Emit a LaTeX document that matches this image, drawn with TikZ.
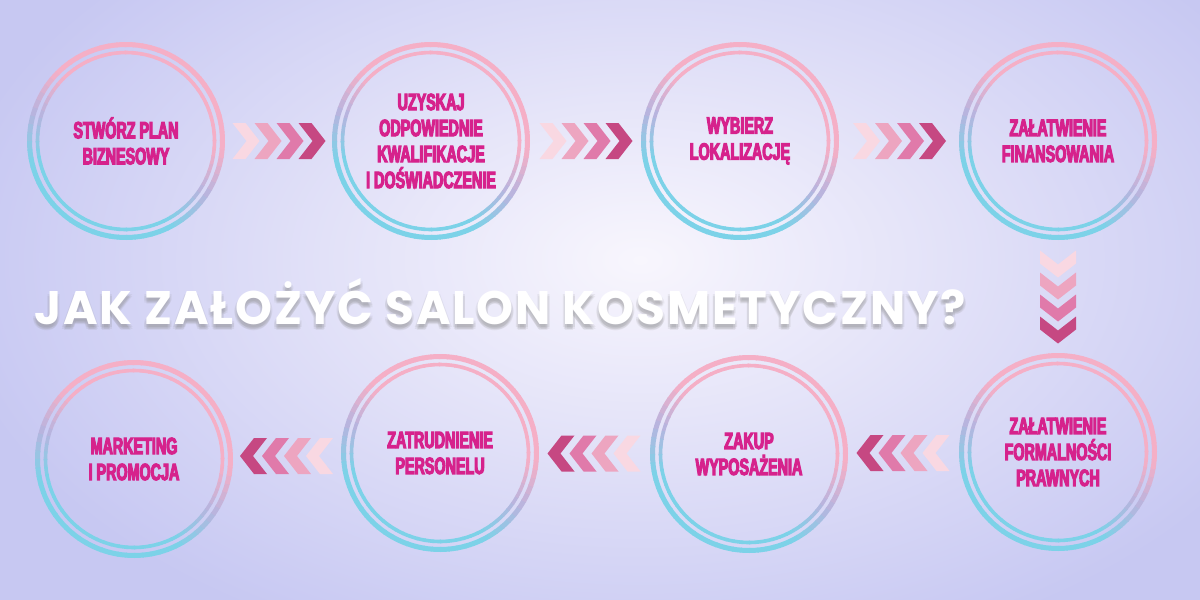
\documentclass[tikz,border=0pt]{standalone}
\usepackage{fontspec}
\usetikzlibrary{calc}
\newfontfamily\labfont{Liberation Sans}[FakeStretch=0.61]
\newfontfamily\titlefont{Poppins}[LetterSpace=4]
\definecolor{bgout}{RGB}{199,200,242}
\definecolor{bgin}{RGB}{248,246,253}
\definecolor{rpink}{RGB}{245,175,198}
\definecolor{rcyan}{RGB}{124,210,232}
\definecolor{rmid}{RGB}{184,180,222}
\definecolor{labcol}{RGB}{214,34,140}
\definecolor{chA}{RGB}{249,216,226}
\definecolor{chB}{RGB}{237,165,192}
\definecolor{chC}{RGB}{224,122,170}
\definecolor{chD}{RGB}{198,72,130}
\tikzset{
  stepcircle/.style={circle, minimum size=198pt, inner sep=0pt, align=center,
    text=labcol, font=\labfont\bfseries\fontsize{23.5}{26}\selectfont,
    execute at begin node={\special{pdf:literal direct 2 Tr 1.1 w}},
    execute at end node={\special{pdf:literal direct 0 Tr}}},
  titletext/.style={anchor=west, inner sep=0pt, font=\titlefont\bfseries\fontsize{47}{50}\selectfont},
  pics/chevgroup/.style={code={
    \foreach \i/\col in {0/chA,1/chB,2/chC,3/chD}{
      \fill[\col] ({-46+\i*22},18) -- ++(13,0) -- ++(14,-18) -- ++(-14,-18) -- ++(-13,0) -- ++(14,18) -- cycle;
    }}}
}
% gradient double ring around a node: pink towards upper right, cyan towards lower left
\newcommand{\ringcol}[1]{%
  \pgfmathtruncatemacro\t{max(0,min(100,(cos(#1-62)+0.62)/0.95*100))}%
  \ifnum\t<50
    \pgfmathtruncatemacro\u{2*\t}\colorlet{segcol}{rmid!\u!rcyan}%
  \else
    \pgfmathtruncatemacro\u{2*\t-100}\colorlet{segcol}{rpink!\u!rmid}%
  \fi
}
\newcommand{\ring}[1]{%
  \foreach \a in {0,5,...,355}{%
    \ringcol{\a}%
    \draw[line width=5pt, color=segcol]
      ($(#1.center)+(\a:96.5)$) arc[start angle=\a, end angle=\a+5.6, radius=96.5];
    \draw[line width=3.6pt, color=segcol]
      ($(#1.center)+(\a:88.5)$) arc[start angle=\a, end angle=\a+5.6, radius=88.5];
  }%
}
\begin{document}
\begin{tikzpicture}[x=1pt,y=1pt]
\useasboundingbox (0,0) rectangle (1200,-600);
\clip (0,0) rectangle (1200,-600);
\fill[bgout] (0,0) rectangle (1200,-600);
\shade[inner color=bgin, outer color=bgout] (640,-260) ellipse [x radius=700, y radius=420];

% step circles
\node[stepcircle] (c1) at (126,-141) {STWÓRZ PLAN\\BIZNESOWY};
\node[stepcircle] (c2) at (431,-141) {UZYSKAJ\\ODPOWIEDNIE\\KWALIFIKACJE\\I DOŚWIADCZENIE};
\node[stepcircle] (c3) at (740,-141) {WYBIERZ\\LOKALIZACJĘ};
\node[stepcircle] (c4) at (1058,-141) {ZAŁATWIENIE\\FINANSOWANIA};
\node[stepcircle] (c5) at (1058,-452) {ZAŁATWIENIE\\FORMALNOŚCI\\PRAWNYCH};
\node[stepcircle] (c6) at (749,-454) {ZAKUP\\WYPOSAŻENIA};
\node[stepcircle] (c7) at (440,-453) {ZATRUDNIENIE\\PERSONELU};
\node[stepcircle] (c8) at (134,-459) {MARKETING\\I PROMOCJA};
\foreach \c in {c1,c2,c3,c4,c5,c6,c7,c8}{\ring{\c}}

% chevron connectors
\path ($(c1)!0.5!(c2)$) pic{chevgroup};
\path ($(c2)!0.5!(c3)$) pic{chevgroup};
\path ($(c3)!0.5!(c4)$) pic{chevgroup};
\path ($(c4)!0.5!(c5)$) pic[rotate=-90]{chevgroup};
\path ($(c5)!0.5!(c6)$) pic[rotate=180]{chevgroup};
\path ($(c6)!0.5!(c7)$) pic[rotate=180]{chevgroup};
\path ($(c7)!0.5!(c8)$) pic[rotate=180]{chevgroup};

% title with soft shadow
\foreach \dx/\dy [count=\k] in {0/-4,1.5/-5,-1.5/-5,0/-6,2/-3,-2/-3}{
  \node[titletext, text=black!45, opacity=0.12] (ts\k) at ({34+\dx},{-302+\dy}) {JAK ZAŁOŻYĆ SALON KOSMETYCZNY?};
}
\node[titletext, text=white] (title) at (34,-302) {JAK ZAŁOŻYĆ SALON KOSMETYCZNY?};
\end{tikzpicture}
\end{document}
